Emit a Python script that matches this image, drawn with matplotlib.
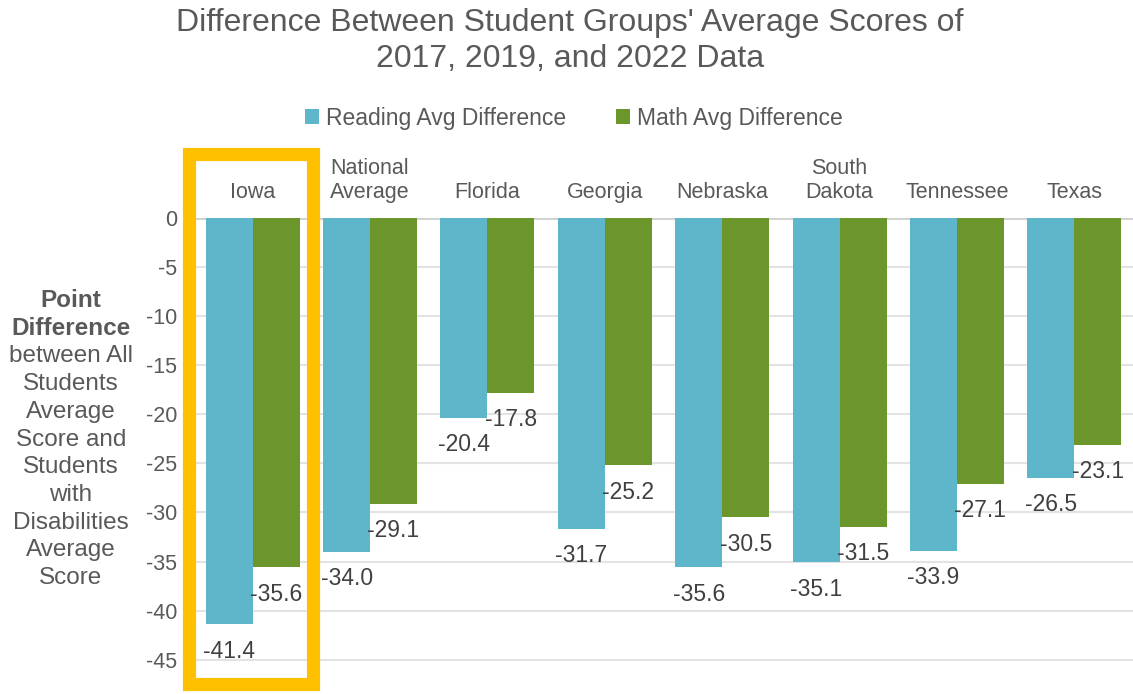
import matplotlib
matplotlib.use("Agg")
import matplotlib.pyplot as plt
from matplotlib.patches import Rectangle
import numpy as np

categories = ["Iowa", "National\nAverage", "Florida", "Georgia", "Nebraska",
              "South\nDakota", "Tennessee", "Texas"]
reading = [-41.4, -34.0, -20.4, -31.7, -35.6, -35.1, -33.9, -26.5]
math_vals = [-35.6, -29.1, -17.8, -25.2, -30.5, -31.5, -27.1, -23.1]
series_names = ["Reading Avg Difference", "Math Avg Difference"]
yticks = [0, -5, -10, -15, -20, -25, -30, -35, -40, -45]

plt.rcParams['font.family'] = ['Liberation Sans', 'DejaVu Sans']
TXT = "#595959"
C_READ = "#5EB6CB"
C_MATH = "#6A962C"

W, H = 1133, 694
fig = plt.figure(figsize=(W / 100, H / 100), dpi=100)
ax_left = 194 / W
ax_right = 1133 / W
ax_top = 1 - 218 / H
ax = fig.add_axes([ax_left, 0, ax_right - ax_left, ax_top])

x = np.arange(len(categories))
bw = 0.4
b1 = ax.bar(x - bw / 2, reading, bw, color=C_READ, label=series_names[0], zorder=3)
b2 = ax.bar(x + bw / 2, math_vals, bw, color=C_MATH, label=series_names[1], zorder=3)

for bars, vals in ((b1, reading), (b2, math_vals)):
    for r, v in zip(bars, vals):
        ax.annotate(f"{v:.1f}", (r.get_x() + r.get_width() / 2, v),
                    xytext=(0, -11), textcoords="offset points",
                    ha="center", va="top", fontsize=16.5, color="#404040", zorder=4)

ax.set_xlim(-0.5, len(categories) - 0.5)
ax.set_ylim(-48.5, 0)
ax.set_yticks(yticks)
ax.set_yticklabels([str(t) for t in yticks], fontsize=15.5, color=TXT)
ax.set_xticks([])
ax.tick_params(axis='y', length=0, pad=12)
for s in ax.spines.values():
    s.set_visible(False)
ax.grid(axis='y', color="#E3E3E3", linewidth=1.5, zorder=0)
ax.axhline(0, color="#D0D0D0", linewidth=2, zorder=2)

# category labels above the zero line
for xi, c in zip(x, categories):
    ax.annotate(c, (xi, 0), xytext=(0, 11), textcoords="offset points",
                ha="center", va="bottom", fontsize=15.5, color=TXT,
                linespacing=1.15, annotation_clip=False)

# highlight box around Iowa
ax.add_patch(Rectangle((-0.54, -47.5), 1.05, 54.0, fill=False,
                       edgecolor="#FFC000", linewidth=9.5, clip_on=False, zorder=5))

# title
fig.text(570 / W, 1 - 41 / H,
         "Difference Between Student Groups' Average Scores of\n2017, 2019, and 2022 Data",
         ha="center", va="center", fontsize=23, color=TXT, linespacing=1.28)

# legend
fig.legend(handles=[b1, b2], labels=series_names, loc="center",
           bbox_to_anchor=(574 / W, 1 - 118 / H), ncol=2, frameon=False,
           fontsize=16.5, labelcolor=TXT, handlelength=0.6, handleheight=0.6,
           handletextpad=0.3, columnspacing=2.2)

# y axis label, multi-line, first two bold
ylab_lines = ["Point", "Difference", "between All", "Students", "Average",
              "Score and", "Students", "with", "Disabilities", "Average", "Score"]
for i, line in enumerate(ylab_lines):
    fig.text(71 / W, 1 - (301 + i * 27.7) / H, line, ha="center", va="center",
             fontsize=17.5, color=TXT, fontweight="bold" if i < 2 else "normal")

fig.savefig("out.png", dpi=100)
